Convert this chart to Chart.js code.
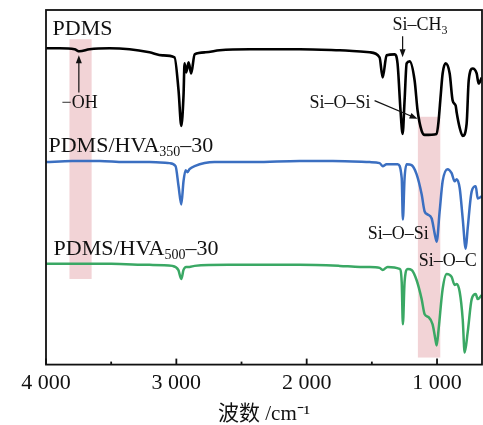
<!DOCTYPE html>
<html>
<head>
<meta charset="utf-8">
<script src="https://cdn.jsdelivr.net/npm/chart.js@4.4.1/dist/chart.umd.min.js"></script>
<style>
  html, body { margin: 0; padding: 0; background: #fff; }
</style>
</head>
<body>
<canvas id="ftirChart" width="483" height="425"></canvas>
<script>
"use strict";

// wavenumbers (cm-1) and stacked transmittance (arb. units)
const pdmsWn = [4000, 3896, 3781, 3743, 3666, 3513, 3359, 3206, 3106, 3014, 2983, 2962, 2945, 2937, 2924, 2906, 2886, 2860, 2776, 2668, 2438, 2054, 1747, 1517, 1441, 1417, 1387, 1326, 1303, 1280, 1264, 1249, 1233, 1210, 1172, 1149, 1118, 1095, 1003, 988, 972, 957, 934, 903, 880, 857, 849, 826, 803, 773, 757, 727, 696, 681, 657];
const pdmsT = [314, 314, 313, 311, 313, 314, 313, 310, 307, 305, 272, 237, 267, 299, 290, 300, 289, 308, 310, 312, 313, 313, 312, 310, 305, 285, 307, 308, 299, 252, 229, 262, 299, 301, 282, 252, 232, 228, 229, 242, 267, 289, 299, 289, 262, 257, 250, 235, 227, 239, 282, 294, 289, 279, 285];

const hva350Wn = [4000, 3800, 3589, 3400, 3206, 3052, 3006, 2983, 2962, 2945, 2929, 2914, 2899, 2860, 2707, 2400, 2054, 1800, 1517, 1440, 1417, 1387, 1302, 1271, 1262, 1249, 1233, 1195, 1157, 1118, 1095, 1072, 1041, 1018, 1003, 980, 957, 919, 888, 865, 849, 826, 803, 780, 765, 734, 703, 688, 657];
const hva350T = [201, 202, 202, 201, 201, 200, 197, 177, 159, 182, 193, 191, 194, 197, 201, 201, 202, 202, 201, 200, 197, 199, 199, 185, 144, 185, 199, 198, 189, 169, 152, 149, 145, 130, 122, 152, 182, 194, 190, 182, 184, 175, 145, 115, 135, 172, 177, 165, 167];

const hva500Wn = [4000, 3800, 3500, 3206, 3030, 2985, 2962, 2945, 2925, 2900, 2860, 2600, 2054, 1747, 1590, 1517, 1440, 1417, 1379, 1287, 1271, 1262, 1249, 1225, 1195, 1157, 1118, 1095, 1064, 1034, 1011, 1003, 988, 957, 926, 888, 865, 849, 826, 803, 788, 765, 734, 703, 688, 657];
const hva500T = [100, 100, 100, 99, 98, 94, 85, 94, 97, 97, 98, 99, 99, 98, 97, 97, 96, 94, 97, 95, 82, 40, 82, 95, 94, 84, 65, 50, 47, 40, 24, 19, 35, 75, 90, 87, 79, 80, 72, 45, 12, 32, 65, 70, 65, 69];

const xTicks = [4000, 3500, 3000, 2500, 2000, 1500, 1000];

// shaded bands: [wn from, wn to, low, high]
const bands = [[3820, 3650, 85, 323], [1147, 975, 7, 246]];

const serif = "'Liberation Serif', 'Times New Roman', 'Noto Sans CJK SC', serif";

// text notes: pieces [text, size, shift], anchored at wavenumber / value
const notes = [
    { parts: [['PDMS', 22]], wn: 3950, v: 327 },
    { parts: [['PDMS/HVA', 22], ['350', 14, 4], ['\u201330', 22]], wn: 3981, v: 211 },
    { parts: [['PDMS/HVA', 22], ['500', 14, 4], ['\u201330', 22]], wn: 3942, v: 109 },
    { parts: [['Si\u2013CH', 18], ['3', 12, 4]], wn: 1341, v: 332 },
    { parts: [['\u2212OH', 18]], wn: 3881, v: 255 },
    { parts: [['Si\u2013O\u2013Si', 18]], wn: 1979, v: 255 },
    { parts: [['Si\u2013O\u2013Si', 18]], wn: 1532, v: 125 },
    { parts: [['Si\u2013O\u2013C', 18]], wn: 1141, v: 98 }
];

// arrows: [wn start, v start, wn tip, v tip]
const arrows = [[3748, 270, 3748, 307], [1264, 326, 1264, 305], [1479, 262, 1149, 244]];

function toPts(wn, t) {
    return wn.map((x, i) => ({ x: x, y: t[i] }));
}

function drawArrow(ctx, x1, y1, x2, y2) {
    const ang = Math.atan2(y2 - y1, x2 - x1);
    ctx.beginPath();
    ctx.moveTo(x1, y1);
    ctx.lineTo(x2 - 6 * Math.cos(ang), y2 - 6 * Math.sin(ang));
    ctx.stroke();
    ctx.beginPath();
    ctx.moveTo(x2, y2);
    ctx.lineTo(x2 - 8 * Math.cos(ang) + 3 * Math.sin(ang), y2 - 8 * Math.sin(ang) - 3 * Math.cos(ang));
    ctx.lineTo(x2 - 8 * Math.cos(ang) - 3 * Math.sin(ang), y2 - 8 * Math.sin(ang) + 3 * Math.cos(ang));
    ctx.closePath();
    ctx.fill();
}

const extras = {
    id: 'extras',
    beforeDatasetsDraw(chart) {
        const { ctx, scales: { x, y } } = chart;
        ctx.save();
        ctx.fillStyle = '#f2d3d6';
        bands.forEach(b => {
            const x1 = x.getPixelForValue(b[0]);
            const x2 = x.getPixelForValue(b[1]);
            const y1 = y.getPixelForValue(b[3]);
            const y2 = y.getPixelForValue(b[2]);
            ctx.fillRect(x1, y1, x2 - x1, y2 - y1);
        });
        ctx.restore();
    },
    afterDatasetsDraw(chart) {
        const { ctx, chartArea: a, scales: { x, y } } = chart;
        ctx.save();
        // frame
        ctx.strokeStyle = '#111';
        ctx.lineWidth = 1.8;
        ctx.strokeRect(a.left, a.top, a.right - a.left, a.bottom - a.top);
        // inward tick marks
        xTicks.forEach(v => {
            const px = x.getPixelForValue(v);
            const len = v % 1000 === 0 ? 6 : 3;
            ctx.beginPath();
            ctx.moveTo(px, a.bottom);
            ctx.lineTo(px, a.bottom - len);
            ctx.stroke();
        });
        // notes
        ctx.fillStyle = '#111';
        ctx.textBaseline = 'alphabetic';
        notes.forEach(n => {
            let cx = x.getPixelForValue(n.wn);
            const cy = y.getPixelForValue(n.v);
            n.parts.forEach(p => {
                ctx.font = p[1] + 'px ' + serif;
                ctx.fillText(p[0], cx, cy + (p[2] || 0));
                cx += ctx.measureText(p[0]).width;
            });
        });
        // arrows
        ctx.lineWidth = 1.2;
        arrows.forEach(r => {
            drawArrow(ctx, x.getPixelForValue(r[0]), y.getPixelForValue(r[1]),
                x.getPixelForValue(r[2]), y.getPixelForValue(r[3]));
        });
        ctx.restore();
    }
};

const ftirEl = document.getElementById('ftirChart');

new Chart(ftirEl, {
    type: 'line',
    data: {
        datasets: [{
            label: 'PDMS',
            data: toPts(pdmsWn, pdmsT),
            borderColor: '#000000',
            borderWidth: 2.6
        }, {
            label: 'PDMS/HVA350-30',
            data: toPts(hva350Wn, hva350T),
            borderColor: '#3b6fc1',
            borderWidth: 2.5
        }, {
            label: 'PDMS/HVA500-30',
            data: toPts(hva500Wn, hva500T),
            borderColor: '#3aa864',
            borderWidth: 2.5
        }]
    },
    options: {
        responsive: false,
        animation: false,
        cubicInterpolationMode: 'monotone',
        elements: { point: { radius: 0 } },
        layout: { padding: { left: 46, right: 1, top: 10, bottom: 0 } },
        plugins: { legend: { display: false }, tooltip: { enabled: false } },
        scales: {
            x: {
                type: 'linear',
                reverse: true,
                min: 655,
                max: 4000,
                afterBuildTicks: (scale) => {
                    scale.ticks = xTicks.map(v => ({ value: v }));
                },
                grid: { display: false, drawTicks: false },
                border: { display: false },
                ticks: {
                    autoSkip: false,
                    maxRotation: 0,
                    padding: 5,
                    color: '#111',
                    font: { family: serif, size: 22 },
                    callback: (v) => v % 1000 === 0 ? (v / 1000) + ' 000' : ''
                },
                title: {
                    display: true,
                    text: '波数 /cm⁻¹',
                    color: '#111',
                    font: { family: serif, size: 21, lineHeight: 1.0 },
                    padding: { top: 3, bottom: 0 }
                }
            },
            y: {
                display: false,
                min: 0,
                max: 352
            }
        }
    },
    plugins: [extras]
});
</script>
</body>
</html>
